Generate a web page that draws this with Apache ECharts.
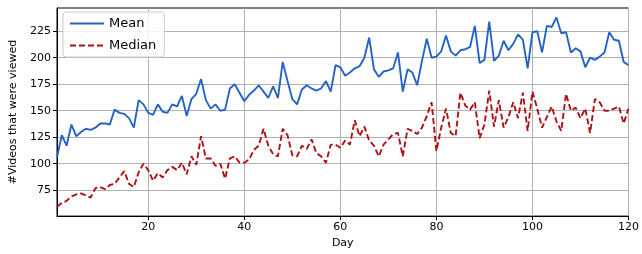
<!DOCTYPE html>
<html>
<head>
<meta charset="utf-8">
<script src="https://cdn.jsdelivr.net/npm/echarts@6/dist/echarts.min.js"></script>
<style>
  html, body { margin: 0; padding: 0; background: #fff; }
  #chart { width: 642px; height: 254px; }
</style>
</head>
<body>
<div id="chart"></div>
<script>
// values, day 1..120
var days = [];
for (var d = 1; d <= 120; d++) days.push(d);

var meanViews = [
  106, 127, 117, 137, 126, 130, 133, 132, 134, 138,
  138, 137, 151, 148, 147, 143, 134, 160, 156, 148,
  146, 156, 149, 148, 156, 154, 164, 145, 161, 166,
  180, 160, 152, 156, 150, 151, 171, 175, 167, 159,
  165, 169, 174, 168, 162, 173, 162, 196, 178, 161,
  156, 170, 174, 171, 169, 171, 178, 168, 193, 191,
  183, 186, 190, 192, 200, 219, 189, 182, 187, 188,
  190, 205, 168, 189, 186, 174, 197, 218, 200, 201,
  206, 221, 206, 202, 207, 208, 210, 230, 195, 198,
  234, 197, 202, 216, 207, 213, 222, 217, 190, 224,
  225, 205, 230, 229, 238, 223, 224, 205, 209, 206,
  191, 200, 198, 201, 205, 224, 217, 216, 196, 193
];

var medianViews = [
  59.5, 63, 65, 69, 71, 72, 70, 68, 77, 78,
  76, 80, 81, 87, 93, 81, 78, 92, 100, 94,
  84, 91, 87, 94, 97, 94, 101, 90, 107, 99,
  126, 105, 105, 98, 100, 86, 105, 107, 101, 101,
  104, 113, 117, 133, 117, 109, 107, 133, 127, 108,
  107, 117, 114, 123, 110, 107, 101, 118, 118, 115,
  122, 118, 141, 126, 135, 122, 117, 107, 118, 123,
  128, 129, 107, 133, 131, 128, 134, 145, 158, 112,
  134, 152, 129, 126, 167, 155, 151, 158, 124, 137,
  169, 135, 160, 134, 144, 158, 143, 167, 131, 168,
  152, 134, 144, 154, 140, 131, 166, 150, 153, 143,
  152, 129, 161, 158, 150, 150, 152, 154, 138, 152
];

var xTicks = [20, 40, 60, 80, 100, 120];
var yTicks = [75, 100, 125, 150, 175, 200, 225];

function pairs(vals) {
  return days.map(function (d, i) { return [d, vals[i]]; });
}

var chart = echarts.init(document.getElementById('chart'), null, { renderer: 'canvas' });
var font = 'DejaVu Sans';

chart.setOption({
  animation: false,
  textStyle: { fontFamily: font },
  grid: {
    left: 57, right: 12, top: 8, bottom: 36,
    show: true, borderColor: '#000', borderWidth: 1, backgroundColor: 'transparent'
  },
  legend: {
    orient: 'vertical',
    left: 63, top: 12,
    itemWidth: 34, itemHeight: 12, itemGap: 9,
    padding: [5, 8, 5, 6],
    backgroundColor: 'rgba(255,255,255,0.85)',
    borderColor: '#ccc', borderWidth: 1, borderRadius: 3,
    itemStyle: { opacity: 0 },
    textStyle: { fontFamily: font, fontSize: 13, color: '#000' },
    data: ['Mean', 'Median']
  },
  xAxis: {
    type: 'value',
    min: 1, max: 120,
    name: 'Day', nameLocation: 'middle', nameGap: 21,
    nameTextStyle: { fontFamily: font, fontSize: 11, color: '#000' },
    axisLine: { show: true, onZero: false, lineStyle: { color: '#000', width: 1 } },
    axisTick: { show: true, length: 4, customValues: xTicks, lineStyle: { color: '#000' } },
    axisLabel: { customValues: xTicks, fontFamily: font, fontSize: 11, color: '#000', margin: 6 },
    splitLine: { show: true, lineStyle: { color: '#b0b0b0', width: 1 } }
  },
  yAxis: {
    type: 'value',
    min: 50.6, max: 246.9,
    name: '#Videos that were viewed', nameLocation: 'middle', nameGap: 33,
    nameTextStyle: { fontFamily: font, fontSize: 11, color: '#000' },
    axisLine: { show: true, lineStyle: { color: '#000', width: 1 } },
    axisTick: { show: true, length: 4, customValues: yTicks, lineStyle: { color: '#000' } },
    axisLabel: { customValues: yTicks, fontFamily: font, fontSize: 11, color: '#000', margin: 6 },
    splitLine: { show: true, lineStyle: { color: '#b0b0b0', width: 1 } }
  },
  series: [
    {
      name: 'Mean',
      type: 'line',
      data: pairs(meanViews),
      showSymbol: false,
      symbol: 'none',
      itemStyle: { color: '#2563c4' },
      lineStyle: { color: '#2563c4', width: 1.9 }
    },
    {
      name: 'Median',
      type: 'line',
      data: pairs(medianViews),
      showSymbol: false,
      symbol: 'none',
      itemStyle: { color: '#ad1116' },
      lineStyle: { color: '#ad1116', width: 1.9, type: [6, 3] }
    }
  ]
});
</script>
</body>
</html>
